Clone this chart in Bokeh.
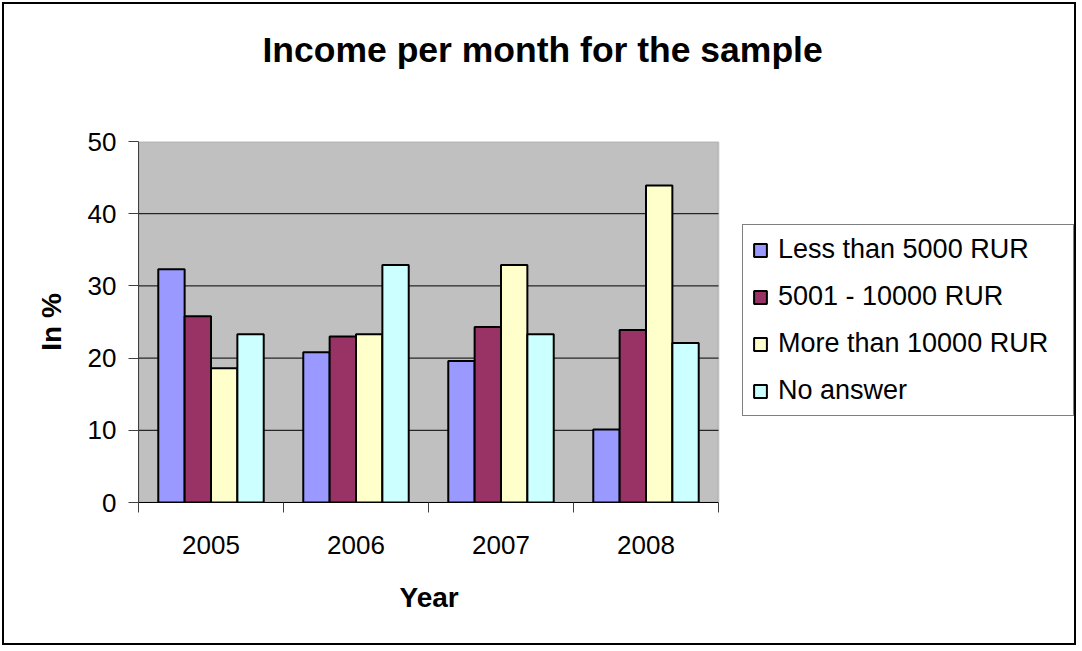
from bokeh.plotting import figure
from bokeh.models import (FixedTicker, Legend, LegendItem, Range1d, ColumnDataSource,
                          Title, BoxAnnotation)
from bokeh.embed import file_html
from bokeh.resources import INLINE

# Survey data: share of respondents (%) by monthly income band
years = ["2005", "2006", "2007", "2008"]
less_than_5000 = [32.3, 20.8, 19.6, 10.1]
from_5001_to_10000 = [25.8, 23.0, 24.3, 23.9]
more_than_10000 = [18.6, 23.3, 32.9, 43.9]
no_answer = [23.3, 32.9, 23.3, 22.1]
y_ticks = [0, 10, 20, 30, 40, 50]

series_names = ["Less than 5000 RUR", "5001 - 10000 RUR", "More than 10000 RUR", "No answer"]
series_values = [less_than_5000, from_5001_to_10000, more_than_10000, no_answer]
series_colors = ["#9999FF", "#993366", "#FFFFCC", "#CCFFFF"]

FONT = "Liberation Sans"
BAR_W = 1 / 5.5  # Excel-style gap width of 150 %

# canvas geometry (px): the frame also hosts the legend to the right of the plot area
W, H = 1074, 643
FRAME_L, FRAME_R = 134, 1072
AREA_R = 714                      # right edge of the grey plot area
n = len(years)
x_end = n * (FRAME_R - FRAME_L) / (AREA_R - FRAME_L)

p = figure(
    width=W, height=H,
    x_range=Range1d(0, x_end), y_range=Range1d(0, y_ticks[-1]),
    output_backend="svg", toolbar_location=None,
    min_border_left=FRAME_L, min_border_right=W - FRAME_R,
    min_border_top=137, min_border_bottom=145,
    background_fill_color="white", border_fill_color="white",
)
p.styles = {"border": "2px solid black", "margin": "2px"}
p.outline_line_color = None
p.grid.visible = False

# grey plot area
p.add_layout(BoxAnnotation(left=0, right=n, bottom=y_ticks[0], top=y_ticks[-1],
                           fill_color="#C0C0C0", fill_alpha=1,
                           line_color="#808080", line_width=2, level="image"))

# horizontal grid lines across the plot area only
inner = y_ticks[1:-1]
p.segment(x0=[0] * len(inner), x1=[n] * len(inner), y0=inner, y1=inner,
          line_color="black", line_width=1)

items = []
for k, (name, vals, color) in enumerate(zip(series_names, series_values, series_colors)):
    xs = [i + 0.5 + (k - 1.5) * BAR_W for i in range(n)]
    src = ColumnDataSource(dict(x=xs, top=vals))
    r = p.vbar(x="x", top="top", bottom=0, width=BAR_W, source=src,
               fill_color=color, line_color="black", line_width=2)
    items.append(LegendItem(label=name, renderers=[r]))

# title, kept clear of the plot area by an empty spacer panel
p.title.text = "Income per month for the sample"
p.title.text_font = FONT
p.title.text_font_size = "35.5px"
p.title.text_font_style = "bold"
p.title.text_color = "black"
p.title.align = "left"
p.title.offset = 124
p.title.standoff = 10
spacer = Title(text=" ", text_font_size="1px", standoff=64)
p.add_layout(spacer, "above")

# y axis
yax = p.yaxis[0]
yax.ticker = FixedTicker(ticks=y_ticks)
yax.axis_label = "In %"
yax.axis_label_text_font = FONT
yax.axis_label_text_font_size = "28px"
yax.axis_label_text_font_style = "bold"
yax.axis_label_text_color = "black"
yax.axis_label_standoff = 18
yax.major_label_text_font = FONT
yax.major_label_text_font_size = "26px"
yax.major_label_text_color = "black"
yax.major_label_standoff = 12
yax.major_tick_out = 10
yax.major_tick_in = 0
yax.minor_tick_out = 0
yax.minor_tick_in = 0
yax.axis_line_color = "#404040"
yax.major_tick_line_color = "#404040"

# x axis: labels at category centres, ticks between categories
xax = p.xaxis[0]
xax.bounds = (0, n)
xax.ticker = FixedTicker(ticks=[i + 0.5 for i in range(n)],
                         minor_ticks=list(range(n + 1)))
xax.major_label_overrides = {i + 0.5: y for i, y in enumerate(years)}
xax.major_label_text_font = FONT
xax.major_label_text_font_size = "26px"
xax.major_label_text_color = "black"
xax.major_label_standoff = 23
xax.major_tick_line_color = None
xax.major_tick_out = 0
xax.major_tick_in = 0
xax.minor_tick_out = 10
xax.minor_tick_in = 0
xax.minor_tick_line_color = "#404040"
xax.axis_line_color = "black"

# x axis title, centred under the plot area rather than the whole frame
x_title = Title(text="Year", text_font=FONT, text_font_size="28px",
                text_font_style="bold", text_color="black",
                align="left", offset=261, vertical_align="top", standoff=50)
p.add_layout(x_title, "below")

legend = Legend(
    items=items, location=(604, 86),
    border_line_color="black", border_line_width=1,
    background_fill_color="white", background_fill_alpha=1,
    label_text_font=FONT, label_text_font_size="27px", label_text_color="black",
    glyph_width=16, glyph_height=16, label_standoff=10,
    label_width=286, spacing=16, padding=9, margin=0,
)
p.add_layout(legend, "center")

open("out.html", "w").write(file_html(p, INLINE))
